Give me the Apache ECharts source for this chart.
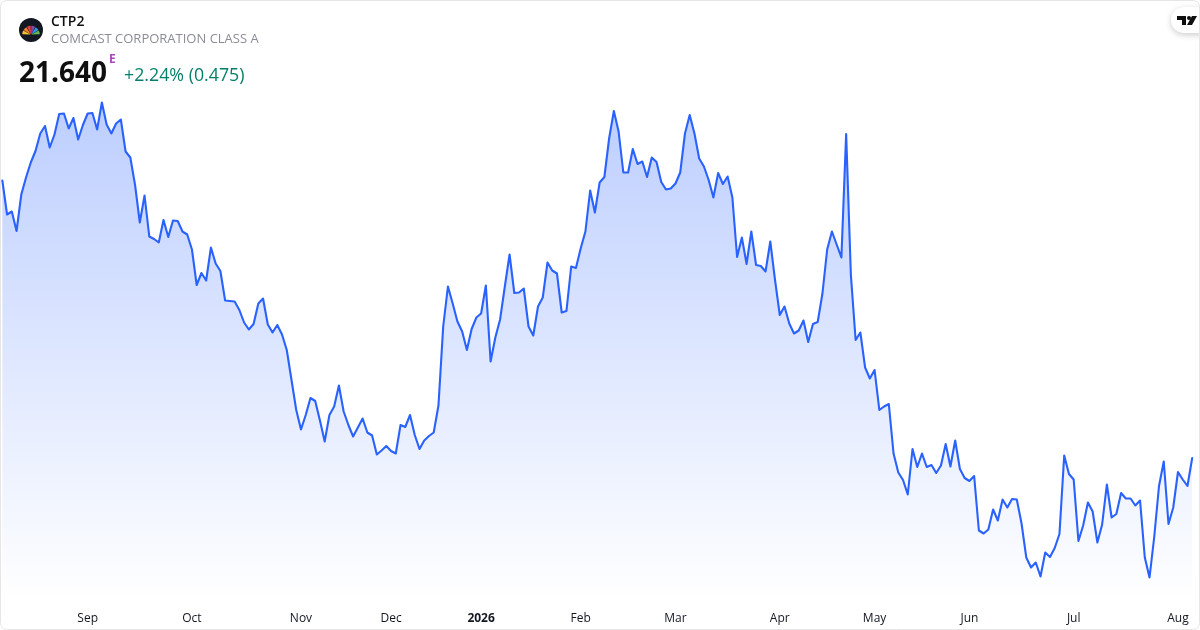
<!DOCTYPE html>
<html><head><meta charset="utf-8">
<style>html,body{margin:0;padding:0;background:#fff}#c{width:1200px;height:630px}</style>
<script src="https://cdn.jsdelivr.net/npm/echarts@6/dist/echarts.min.js"></script>
</head><body><div id="c"></div>
<script>
const prices = [27.19,26.51,26.57,26.18,26.91,27.25,27.55,27.78,28.13,28.28,27.85,28.11,28.52,28.53,28.23,28.44,28.01,28.30,28.53,28.54,28.21,28.75,28.31,28.13,28.33,28.41,27.77,27.65,27.10,26.35,26.89,26.07,26.02,25.95,26.40,26.06,26.39,26.38,26.17,26.11,25.81,25.10,25.34,25.19,25.85,25.53,25.38,24.79,24.78,24.77,24.60,24.35,24.21,24.32,24.73,24.83,24.31,24.15,24.30,24.11,23.80,23.20,22.60,22.21,22.50,22.84,22.78,22.39,21.97,22.50,22.67,23.09,22.57,22.30,22.07,22.25,22.43,22.15,22.09,21.71,21.79,21.88,21.78,21.73,22.30,22.26,22.50,22.10,21.82,21.99,22.08,22.15,22.69,24.27,25.07,24.73,24.37,24.17,23.80,24.22,24.45,24.53,25.09,23.57,24.05,24.41,25.07,25.71,24.94,24.95,25.03,24.27,24.09,24.67,24.85,25.55,25.39,25.33,24.55,24.58,25.47,25.44,25.83,26.17,26.99,26.55,27.15,27.26,28.03,28.58,28.17,27.35,27.35,27.82,27.52,27.57,27.26,27.65,27.56,27.16,27.01,27.03,27.13,27.35,28.13,28.50,28.13,27.63,27.47,27.20,26.85,27.34,27.12,27.27,26.85,25.66,26.05,25.52,26.17,25.50,25.48,25.37,25.97,25.20,24.50,24.67,24.33,24.13,24.19,24.39,23.96,24.32,24.36,24.93,25.81,26.17,25.91,25.65,28.12,25.30,24.00,24.15,23.45,23.23,23.40,22.60,22.67,22.72,21.73,21.35,21.20,20.91,21.82,21.46,21.73,21.46,21.50,21.34,21.49,21.92,21.47,21.99,21.42,21.24,21.18,21.28,20.19,20.13,20.21,20.61,20.39,20.81,20.65,20.82,20.81,20.33,19.65,19.45,19.55,19.27,19.75,19.66,19.84,20.12,21.69,21.32,21.21,19.98,20.29,20.75,20.57,19.95,20.31,21.11,20.45,20.52,20.94,20.83,20.83,20.69,20.79,19.65,19.25,20.07,21.08,21.57,20.32,20.65,21.36,21.21,21.08,21.64];
const tickIndex = [18,40,63,82,101,122,142,164,184,204,226,248];
const tickLabels = ['Sep','Oct','Nov','Dec','2026','Feb','Mar','Apr','May','Jun','Jul','Aug'];
const categories = prices.map((_, i) => { const k = tickIndex.indexOf(i); return k >= 0 ? tickLabels[k] : 'd' + i; });
const symbol = 'CTP2', company = 'COMCAST CORPORATION CLASS A', lastPrice = '21.640', change = '+2.24% (0.475)';
const font = '"Open Sans", sans-serif';
const ink = '#0f0f0f';
const peacock = ['#f7c02e','#f0802a','#e23a52','#7d4fa6','#2f97dc','#62b84a'];

const chart = echarts.init(document.getElementById('c'), null, {renderer:'canvas'});
const feathers = peacock.map((c, i) => ({
  type:'sector', z:12,
  shape:{cx:31, cy:34.6, r0:0.8, r:8.8,
    startAngle:Math.PI + i*Math.PI/6 + 0.04, endAngle:Math.PI + (i+1)*Math.PI/6 - 0.04},
  style:{fill:c}
}));
chart.setOption({
  animation:false,
  backgroundColor:'#fff',
  grid:{left:2.33, right:7.8, top:0, bottom:30, containLabel:false},
  xAxis:{type:'category', data:categories, boundaryGap:false,
    axisLine:{show:false}, axisTick:{show:false}, splitLine:{show:false},
    axisLabel:{
      interval:(i) => tickIndex.includes(i),
      margin:13, color:'#131722', fontSize:12, fontFamily:font, hideOverlap:false,
      formatter:(v) => v === '2026' ? '{b|2026}' : v,
      rich:{b:{fontWeight:'bold', fontSize:12, color:'#131722', fontFamily:font}}
    }},
  yAxis:{type:'value', min:18.8, max:30.8, show:false, splitLine:{show:false}},
  series:[{type:'line', data:prices, symbol:'none', smooth:false, clip:false,
    lineStyle:{color:'#2962ff', width:2.1, join:'round', cap:'round'},
    areaStyle:{origin:'start', opacity:1, color:new echarts.graphic.LinearGradient(0,0,0,1,[
      {offset:0, color:'rgba(41,98,255,0.31)'},
      {offset:1, color:'rgba(41,98,255,0)'}])}
  }],
  graphic:[
    {type:'rect', z:20, silent:true, shape:{x:0.5,y:0.5,width:1199,height:629,r:6},
      style:{fill:'none', stroke:'#e6e6e6', lineWidth:1}},
    {type:'circle', z:11, shape:{cx:31, cy:30, r:12}, style:{fill:'#131722'}},
    ...feathers,
    {type:'text', z:12, x:51, y:15, style:{text:symbol, font:'600 14px '+font, fill:ink}},
    {type:'text', z:12, x:51, y:33, style:{text:company, font:'13px '+font, fill:'#8a8d96'}},
    {type:'text', z:12, x:19, y:60, style:{text:lastPrice, font:'bold 28px '+font, fill:ink}},
    {type:'text', z:12, x:109, y:54, style:{text:'E', font:'bold 12px '+font, fill:'#ab47bc'}},
    {type:'text', z:12, x:124, y:67, style:{text:change, font:'17.8px '+font, fill:'#057f6b'}},
    {type:'rect', z:13, shape:{x:1171,y:7,width:40,height:26,r:13},
      style:{fill:'#fff', shadowBlur:6, shadowColor:'rgba(0,0,0,0.2)', shadowOffsetY:2}},
    {type:'polygon', z:14, shape:{points:[[1177,16],[1186,16],[1186,25],[1182,25],[1182,20],[1177,20]]}, style:{fill:ink}},
    {type:'circle', z:14, shape:{cx:1189,cy:18,r:2}, style:{fill:ink}},
    {type:'polygon', z:14, shape:{points:[[1192,16],[1197,16],[1192,25],[1187,25]]}, style:{fill:ink}}
  ]
});
</script></body></html>
